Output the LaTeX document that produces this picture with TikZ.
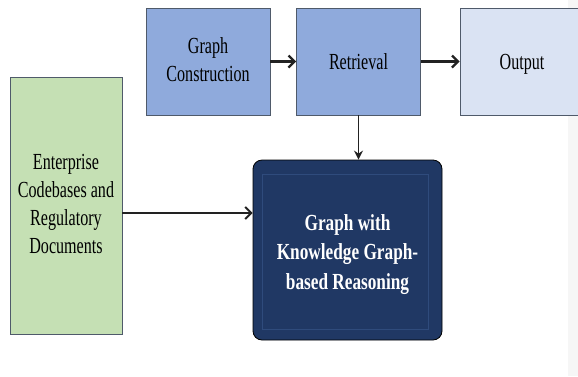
\documentclass[tikz,border=0pt]{standalone}
\usepackage{fontspec}
\setmainfont{Liberation Serif}
\usetikzlibrary{arrows.meta}
\definecolor{midblue}{HTML}{8FAADC}
\definecolor{lightblue}{HTML}{DAE3F3}
\definecolor{lightgreen}{HTML}{C5E0B4}
\definecolor{navy}{HTML}{203864}
\definecolor{navyline}{HTML}{2F4B7C}
\definecolor{boxline}{HTML}{4F5A6A}
\definecolor{stripgrey}{HTML}{F6F6F6}
\definecolor{arrowcol}{HTML}{222222}
\newcommand{\narrowtext}[1]{\scalebox{0.70}[1]{\begin{tabular}{@{}c@{}}#1\end{tabular}}}
\newcommand{\narrowbold}[1]{\scalebox{0.75}[1]{\begin{tabular}{@{}c@{}}#1\end{tabular}}}
\tikzset{
  flowbox/.style={draw=boxline, line width=0.9pt, inner sep=0pt, align=center,
    font=\fontsize{23}{28}\selectfont},
  darkbox/.style={draw=black, line width=0.8pt, fill=navy, rounded corners=9pt,
    inner sep=0pt, text=white, font=\fontsize{23}{29.5}\selectfont\bfseries},
  flowarrow/.style={draw=arrowcol, line width=2.2pt,
    -{Straight Barb[length=6pt,width=12pt]}},
  thinarrow/.style={draw=arrowcol, line width=1.5pt,
    -{Stealth[length=9pt,width=9pt,inset=3pt]}}
}
\begin{document}
\begin{tikzpicture}[x=1pt,y=-1pt]
\useasboundingbox (0,0) rectangle (578,376);
\fill[white] (0,0) rectangle (578,376);
\fill[stripgrey] (568,0) rectangle (578,376);

\node[flowbox, fill=midblue, minimum width=124pt, minimum height=107pt] (gc) at (208,61.5)
  {\narrowtext{Graph\\Construction}};
\node[flowbox, fill=midblue, minimum width=124pt, minimum height=107pt] (ret) at (358.5,61.5)
  {\raisebox{-2pt}[\height][\depth]{\narrowtext{Retrieval}}};
\node[flowbox, fill=lightblue, minimum width=124pt, minimum height=107pt] (out) at (522,61.5)
  {\raisebox{-2pt}[\height][\depth]{\narrowtext{Output}}};
\node[flowbox, fill=lightgreen, minimum width=112pt, minimum height=257pt] (src) at (66,205.5)
  {\narrowtext{Enterprise\\Codebases and\\Regulatory\\Documents}};
\node[darkbox, minimum width=189pt, minimum height=180pt] (kg) at (347.5,250)
  {\raisebox{-4pt}[\height][\depth]{\narrowbold{Graph with\\Knowledge Graph-\\based Reasoning}}};
\draw[navyline, line width=0.8pt] (262,174) rectangle (428,329);

\coordinate (arrowy) at (0,213);
\draw[flowarrow] (gc.east) -- (ret.west);
\draw[flowarrow] (ret.east) -- (out.west);
\draw[thinarrow] (ret.south) -- (ret.south |- kg.north);
\draw[flowarrow, line width=2pt] (src.east |- arrowy) -- (kg.west |- arrowy);
\end{tikzpicture}
\end{document}
